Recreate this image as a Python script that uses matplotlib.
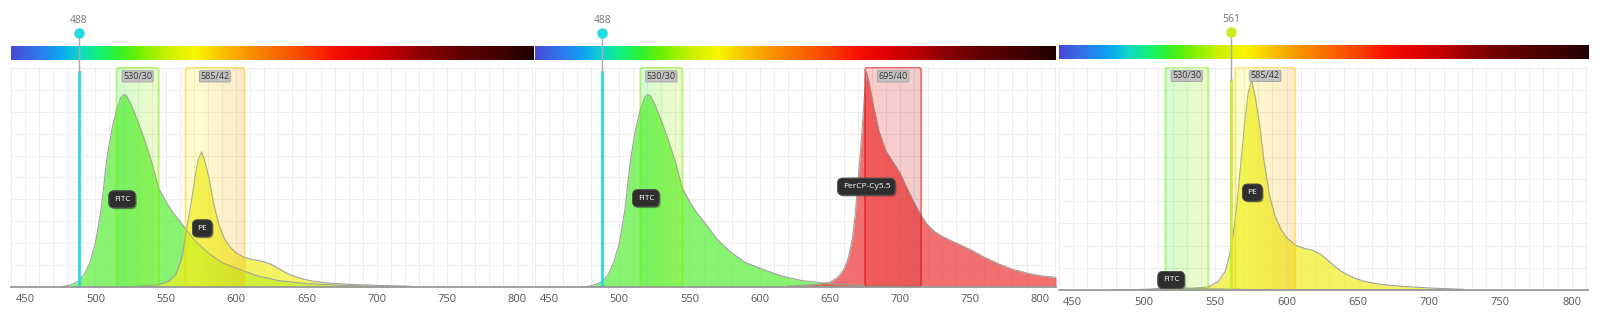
import numpy as np
import matplotlib
matplotlib.use("Agg")
import matplotlib.pyplot as plt
from matplotlib.colors import LinearSegmentedColormap, Normalize, to_rgba
from matplotlib.patches import FancyBboxPatch
import matplotlib.patheffects as pe

plt.rcParams['font.family'] = ['Open Sans', 'DejaVu Sans']

# ---- spectra (emission, % of max) ----
fitc_wl = [476, 480, 484, 488, 492, 496, 500, 504, 508, 510, 512, 515, 518, 520, 522,
           525, 530, 535, 540, 545, 550, 555, 560, 570, 580, 590, 600, 615, 630, 650,
           675, 700, 725]
fitc_488 = [0, 0.5, 1.2, 2.5, 5.5, 11, 20, 35, 58, 66, 73, 81, 86.5, 88, 87.5,
            84, 76, 67, 57, 45, 39, 34, 30, 21.5, 15.5, 11, 8.5, 5, 2.8, 1.4,
            0.6, 0.2, 0]
fitc_561 = [0, 0, 0.05, 0.1, 0.15, 0.2, 0.3, 0.4, 0.6, 0.7, 0.8, 0.9, 0.95, 1.0, 1.0,
            0.95, 0.85, 0.75, 0.65, 0.5, 0.45, 0.4, 0.35, 0.25, 0.18, 0.13, 0.1, 0.06, 0.04, 0.02,
            0.01, 0, 0]

pe_wl = [530, 545, 552, 557, 560, 562, 565, 568, 571, 573, 575.5, 578, 581, 584, 588,
         592, 596, 600, 606, 612, 618, 624, 630, 636, 642, 648, 655, 665, 680, 700, 724]
pe_488 = [0.3, 0.9, 2.5, 5.5, 10.5, 15, 27, 38, 51, 58, 61.8, 57, 49, 38, 28,
          21.5, 18, 15.5, 13.3, 12.4, 11.7, 10.5, 8.4, 6.2, 4.6, 3.4, 2.5, 1.7, 1.1, 0.6, 0.2]
pe_561 = [0.5, 1.4, 3.8, 8.5, 16, 22.6, 37.7, 58.4, 78, 88.5, 94.2, 86.7, 74.4, 58.4, 42.4,
          33, 27.3, 23.5, 20.2, 18.8, 17.9, 16, 12.7, 9.4, 7.1, 5.2, 3.8, 2.6, 1.7, 0.9, 0.3]

percp_wl = [620, 640, 650, 656, 660, 663, 666, 668, 670, 672, 674, 676, 678, 681, 685, 690,
            695, 700, 705, 710, 715, 720, 725, 730, 740, 750, 760, 770, 780, 790, 800, 811]
percp_488 = [0.3, 1, 2, 4.5, 8, 13, 22, 33, 48, 64, 82, 98.5, 93, 83, 71, 62,
             57, 52, 45, 38.5, 32.5, 28, 25, 23, 20, 17, 13.5, 10.5, 8, 6.3, 5, 4.3]

lasers = [488, 488, 561]
laser_colors = ['#22dde0', '#22dde0', '#c8ee22']

# filters: name, low, high
filters = [
    [('530/30', 515, 545), ('585/42', 564, 606)],
    [('530/30', 515, 545), ('695/40', 675, 715)],
    [('530/30', 515, 545), ('585/42', 564, 606)],
]

# dyes: name, wavelengths, values, colour, label x, label y
dyes = [
    [('FITC', fitc_wl, fitc_488, '#55ee33', 519, 40),
     ('PE', pe_wl, pe_488, '#eeee22', 576, 26.7)],
    [('FITC', fitc_wl, fitc_488, '#55ee33', 519, 40.5),
     ('PerCP-Cy5.5', percp_wl, percp_488, '#ee3333', 676, 45.8)],
    [('FITC', fitc_wl, fitc_561, '#55ee33', 519, 4.5),
     ('PE', pe_wl, pe_561, '#eeee22', 576, 43.8)],
]

# colour bar of the visible spectrum
bar_wl = [440, 460, 475, 488, 500, 515, 530, 550, 570, 590, 610, 630, 650, 670,
          690, 710, 730, 760, 790, 811]
bar_col = ['#4a4ad8', '#2a7ef0', '#0aa8f0', '#10d8c8', '#10f080', '#30f030', '#70f000',
           '#c8f000', '#f8f800', '#f8c000', '#f89000', '#f86800', '#f84000', '#f81000',
           '#e00000', '#c00000', '#900000', '#600000', '#400000', '#200000']

XMIN, XMAX = 440, 811
norm = Normalize(XMIN, XMAX)
spec_cmap = LinearSegmentedColormap.from_list(
    'spec', [((w - XMIN) / (XMAX - XMIN), c) for w, c in zip(bar_wl, bar_col)])

W, H = 1619, 334
fig = plt.figure(figsize=(W / 100, H / 100), dpi=100)


def fbox(l, r, t, b):
    return [l / W, 1 - b / H, (r - l) / W, (b - t) / H]


# pixel layout of the three panels: left, right, plot top, plot bottom
layout = [(11, 533, 67.2, 286.7), (535, 1056, 67.2, 286.7), (1058.5, 1587.6, 66.6, 290)]
laser_top = [98.3, 98.3, 94.5]

for i in range(3):
    l, r, t, b = layout[i]
    ax = fig.add_axes(fbox(l, r, t, b))
    ax.set_facecolor('white')

    # grid
    ax.set_xticks(range(450, 801, 50))
    ax.set_xticks(np.arange(440, 811, 10), minor=True)
    ax.set_yticks(np.arange(0, 101, 10))
    ax.grid(which='both', color='#eeeeee', lw=0.7, zorder=0)
    ax.set_axisbelow(True)
    ax.tick_params(which='both', length=0, labelsize=8, labelcolor='#555', pad=5)
    ax.set_yticklabels([])
    for s in ['top', 'left', 'right']:
        ax.spines[s].set_visible(False)
    ax.spines['bottom'].set_color('#999999')
    ax.spines['bottom'].set_linewidth(1.3)
    ax.spines['bottom'].set_zorder(8)

    # spectra
    for name, wl, vals, col, lx, ly in dyes[i]:
        ax.fill_between(wl, 0, vals, color=col, alpha=0.7, lw=0, zorder=2)
        ax.plot(wl, vals, color='#a0a0a0', lw=0.8, zorder=2.5)

    # filter boxes
    for name, lo, hi in filters[i]:
        c = spec_cmap(norm((lo + hi) / 2))
        patch = FancyBboxPatch((lo, 0), hi - lo, 100.4,
                               boxstyle='round,pad=0,rounding_size=2.2',
                               mutation_aspect=0.64, facecolor='none',
                               edgecolor=to_rgba(c, 0.5), lw=1.3, zorder=4)
        ax.add_patch(patch)
        grad = np.linspace(lo, hi, 64)[None, :]
        im = ax.imshow(grad, extent=(lo, hi, 0, 100.4), cmap=spec_cmap, norm=norm,
                       alpha=0.2, aspect='auto', zorder=3, interpolation='bilinear')
        im.set_clip_path(patch)
        ax.text((lo + hi) / 2, 96.3, name, ha='center', va='center', fontsize=6.5,
                color='#333333', zorder=6,
                bbox=dict(boxstyle='round,pad=0.12', fc='#c2c2c2', ec='#a0a0a0', lw=0.6))

    # dye labels
    for name, wl, vals, col, lx, ly in dyes[i]:
        t_ = ax.text(lx, ly, name, ha='center', va='center', fontsize=6, color='white',
                     zorder=7, bbox=dict(boxstyle='round,pad=0.6', fc='#2e2e2e',
                                         ec='#555555', lw=0.6))
        t_.get_bbox_patch().set_path_effects(
            [pe.withSimplePatchShadow(offset=(1, -1), alpha=0.35), pe.Normal()])

    # laser line
    lz = lasers[i]
    ax.plot([lz, lz], [0, laser_top[i]], color=laser_colors[i], lw=2, zorder=5)
    ax.plot([lz, lz], [laser_top[i], 100.5], color='#aaaaaa', lw=1, zorder=5)

    ax.set_xlim(XMIN, XMAX)
    ax.set_ylim(0, 100.5)

    # top strip: spectrum bar and laser marker
    top = t + 0.5
    axt = fig.add_axes(fbox(l, r, 0, top))
    axt.set_xlim(XMIN, XMAX)
    axt.set_ylim(top, 0)
    axt.axis('off')
    off = 0 if i < 2 else -1
    bar = np.linspace(XMIN, XMAX, 400)[None, :]
    axt.imshow(bar, extent=(XMIN, XMAX, 60 + off, 46 + off), cmap=spec_cmap, norm=norm,
               aspect='auto', zorder=1)
    axt.plot([lz, lz], [33 + off, top], color='#aaaaaa', lw=1, zorder=2)
    axt.plot([lz], [33 + off], 'o', ms=6.5, color=laser_colors[i], zorder=3)
    axt.text(lz, 20.7 + off, str(lz), ha='center', va='center', fontsize=7.5,
             color='#777777')
    axt.set_xlim(XMIN, XMAX)
    axt.set_ylim(top, 0)

fig.savefig('out.png', dpi=100)
